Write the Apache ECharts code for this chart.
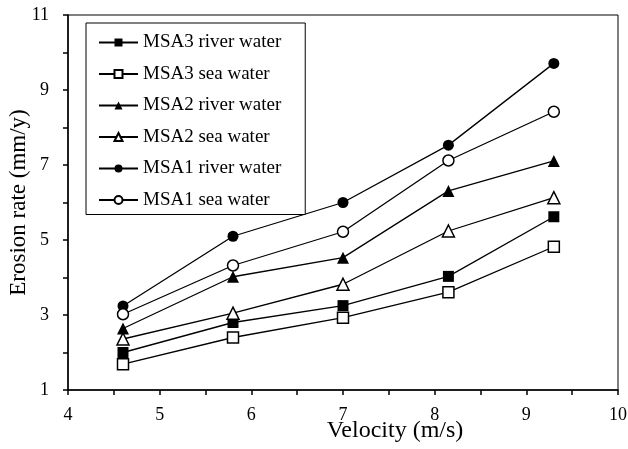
<!DOCTYPE html>
<html>
<head>
<meta charset="utf-8">
<script src="https://cdn.jsdelivr.net/npm/echarts@6/dist/echarts.min.js"></script>
<style>
  html, body { margin: 0; padding: 0; background: #fff; }
  #chart { width: 628px; height: 449px; }
</style>
</head>
<body>
<div id="chart"></div>
<script>
// velocity (m/s)
var velocity = [4.6, 5.8, 7.0, 8.15, 9.3];

// erosion rate (mm/y)
var msa3River = [2.0, 2.8, 3.25, 4.03, 5.62];
var msa3Sea   = [1.69, 2.4, 2.93, 3.61, 4.82];
var msa2River = [2.64, 4.02, 4.53, 6.31, 7.11];
var msa2Sea   = [2.36, 3.05, 3.82, 5.24, 6.13];
var msa1River = [3.24, 5.1, 6.0, 7.53, 9.71];
var msa1Sea   = [3.02, 4.32, 5.22, 7.12, 8.42];

var seriesNames = ['MSA3 river water', 'MSA3 sea water', 'MSA2 river water',
                   'MSA2 sea water', 'MSA1 river water', 'MSA1 sea water'];

var font = '"Liberation Serif", "Times New Roman", serif';

function pairs(ys) {
    var out = [];
    for (var i = 0; i < velocity.length; i++) {
        out.push([velocity[i], ys[i]]);
    }
    return out;
}

function makeSeries(name, ys, symbol, filled, size) {
    return {
        name: name,
        type: 'line',
        data: pairs(ys),
        symbol: symbol,
        symbolSize: size,
        showAllSymbol: true,
        lineStyle: { color: '#000', width: 1.3 },
        itemStyle: {
            color: filled ? '#000' : '#fff',
            borderColor: '#000',
            borderWidth: filled ? 0 : 1.5
        },
        emphasis: { disabled: true },
        z: 2
    };
}

var myChart = echarts.init(document.getElementById('chart'));

var option = {
    backgroundColor: '#fff',
    animation: false,
    textStyle: { fontFamily: font, color: '#000' },
    grid: {
        left: 68, right: 10, top: 15, bottom: 59,
        outerBoundsMode: 'none',
        containLabel: false,
        show: true, borderColor: '#000', borderWidth: 1
    },
    legend: {
        orient: 'vertical',
        left: 86,
        top: 23,
        itemWidth: 39,
        itemHeight: 10,
        itemGap: 12.5,
        padding: [10, 24, 5, 12],
        borderColor: '#000',
        borderWidth: 1,
        backgroundColor: '#fff',
        textStyle: { fontFamily: font, fontSize: 19, color: '#000' },
        data: seriesNames
    },
    xAxis: {
        type: 'value',
        min: 4, max: 10, interval: 1,
        name: 'Velocity (m/s)',
        nameLocation: 'middle',
        nameGap: 29,
        nameMoveOverlap: false,
        nameTextStyle: { fontFamily: font, fontSize: 24, color: '#000', padding: [0, 0, 0, 104] },
        axisLine: { onZero: false, lineStyle: { color: '#000', width: 1.5 } },
        axisTick: { show: true, length: 5, lineStyle: { color: '#000', width: 1.5 } },
        minorTick: { show: true, splitNumber: 2, length: 5, lineStyle: { color: '#000', width: 1.5 } },
        axisLabel: { fontFamily: font, fontSize: 18, color: '#000', margin: 16 },
        splitLine: { show: false }
    },
    yAxis: {
        type: 'value',
        min: 1, max: 11, interval: 2,
        name: 'Erosion rate (mm/y)',
        nameLocation: 'middle',
        nameGap: 38,
        nameMoveOverlap: false,
        nameTextStyle: { fontFamily: font, fontSize: 23, color: '#000' },
        axisLine: { onZero: false, lineStyle: { color: '#000', width: 1.5 } },
        axisTick: { show: true, length: 5, lineStyle: { color: '#000', width: 1.5 } },
        minorTick: { show: true, splitNumber: 2, length: 5, lineStyle: { color: '#000', width: 1.5 } },
        axisLabel: { fontFamily: font, fontSize: 18, color: '#000', margin: 19 },
        splitLine: { show: false }
    },
    series: [
        makeSeries(seriesNames[0], msa3River, 'rect', true, 11),
        makeSeries(seriesNames[1], msa3Sea, 'rect', false, 11),
        makeSeries(seriesNames[2], msa2River, 'triangle', true, 12),
        makeSeries(seriesNames[3], msa2Sea, 'triangle', false, 12),
        makeSeries(seriesNames[4], msa1River, 'circle', true, 11),
        makeSeries(seriesNames[5], msa1Sea, 'circle', false, 11)
    ]
};

myChart.setOption(option);
</script>
</body>
</html>
